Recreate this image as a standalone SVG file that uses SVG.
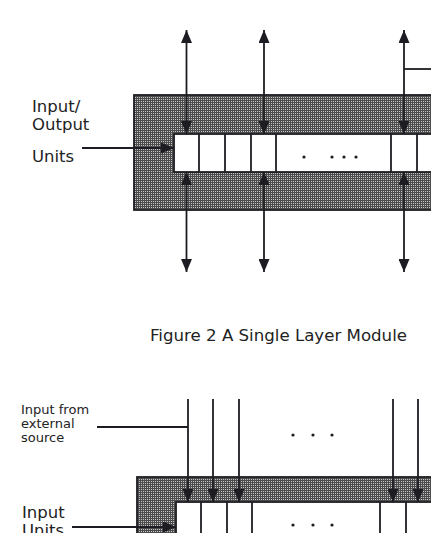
<svg xmlns="http://www.w3.org/2000/svg" width="431" height="533" viewBox="0 0 431 533">
<style>
.t{font-family:"DejaVu Sans","Liberation Sans",sans-serif;fill:#222;}
.lbl{font-size:16.5px;}
.sm{font-size:13px;}
.shade{fill:url(#dither);stroke:#1c1c22;stroke-width:1.8;}
.cell{fill:#fff;stroke:#1c1c22;stroke-width:1.8;}
.div{stroke:#1c1c22;stroke-width:1.8;}
.ln{stroke:#1c1c22;stroke-width:1.8;fill:none;}
.arr{stroke:#1c1c22;stroke-width:1.8;fill:none;marker-end:url(#ah);}
.arr2{stroke:#1c1c22;stroke-width:1.8;fill:none;marker-start:url(#ah);marker-end:url(#ah);}
.dot{fill:#1c1c22;}
</style>
<defs>
<pattern id="dither" width="2" height="2" patternUnits="userSpaceOnUse">
<rect width="2" height="2" fill="#4c4c4c"/>
<rect x="1" y="1" width="1" height="1" fill="#c4c4c4"/>
</pattern>
<marker id="ah" viewBox="0 0 13 11" refX="13" refY="5.5" markerWidth="13" markerHeight="11" markerUnits="userSpaceOnUse" orient="auto-start-reverse">
<path d="M0,0 L13,5.5 L0,11 z" fill="#1c1c22"/>
</marker>
</defs>
<rect width="431" height="533" fill="#fff"/>

<g id="module-top">
<rect class="shade" x="134" y="95" width="300" height="115"/>
<rect class="cell" x="174" y="134" width="260" height="38"/>
<line class="div" x1="199" y1="134" x2="199" y2="172"/>
<line class="div" x1="225" y1="134" x2="225" y2="172"/>
<line class="div" x1="251" y1="134" x2="251" y2="172"/>
<line class="div" x1="276" y1="134" x2="276" y2="172"/>
<line class="div" x1="391" y1="134" x2="391" y2="172"/>
<line class="div" x1="417" y1="134" x2="417" y2="172"/>
<circle class="dot" cx="304" cy="157" r="1.6"/>
<circle class="dot" cx="332" cy="157" r="1.6"/>
<circle class="dot" cx="344" cy="157" r="1.6"/>
<circle class="dot" cx="356" cy="157" r="1.6"/>
</g>

<g id="label-io">
<text class="t lbl" x="32" y="112">Input/</text>
<text class="t lbl" x="32" y="130">Output</text>
<text class="t lbl" x="32" y="162">Units</text>
</g>

<g id="caption">
<text class="t lbl" x="150" y="341" textLength="257" lengthAdjust="spacingAndGlyphs">Figure 2 A Single Layer Module</text>
</g>

<g id="module-bottom">
<rect class="shade" x="137" y="477" width="300" height="80"/>
<rect class="cell" x="176" y="502" width="260" height="60"/>
<line class="div" x1="201" y1="502" x2="201" y2="533"/>
<line class="div" x1="227" y1="502" x2="227" y2="533"/>
<line class="div" x1="252" y1="502" x2="252" y2="533"/>
<line class="div" x1="380" y1="502" x2="380" y2="533"/>
<line class="div" x1="406" y1="502" x2="406" y2="533"/>
<circle class="dot" cx="293" cy="525" r="1.6"/>
<circle class="dot" cx="313" cy="525" r="1.6"/>
<circle class="dot" cx="332" cy="525" r="1.6"/>
</g>

<g id="external-dots">
<circle class="dot" cx="293" cy="435" r="1.6"/>
<circle class="dot" cx="313" cy="435" r="1.6"/>
<circle class="dot" cx="332" cy="435" r="1.6"/>
</g>

<g id="label-external">
<text class="t sm" x="21" y="414">Input from</text>
<text class="t sm" x="21" y="428">external</text>
<text class="t sm" x="21" y="442">source</text>
</g>

<g id="label-input">
<text class="t lbl" x="22" y="518">Input</text>
<text class="t lbl" x="22" y="536">Units</text>
</g>

<g id="connectors">
<path class="arr2" d="M186.5,30 V134"/>
<path class="arr2" d="M186.5,172 V272"/>
<path class="arr2" d="M264,30 V134"/>
<path class="arr2" d="M264,172 V272"/>
<path class="arr2" d="M404,30 V134"/>
<path class="arr2" d="M404,172 V272"/>
<path class="ln" d="M404,69 H431"/>
<path class="arr" d="M82,148 H174"/>
<path class="arr" d="M188,399 V502"/>
<path class="arr" d="M213,399 V502"/>
<path class="arr" d="M239,399 V502"/>
<path class="arr" d="M393,399 V502"/>
<path class="arr" d="M418,399 V502"/>
<path class="ln" d="M97,427 H188"/>
<path class="arr" d="M72,527 H176"/>
</g>
</svg>
